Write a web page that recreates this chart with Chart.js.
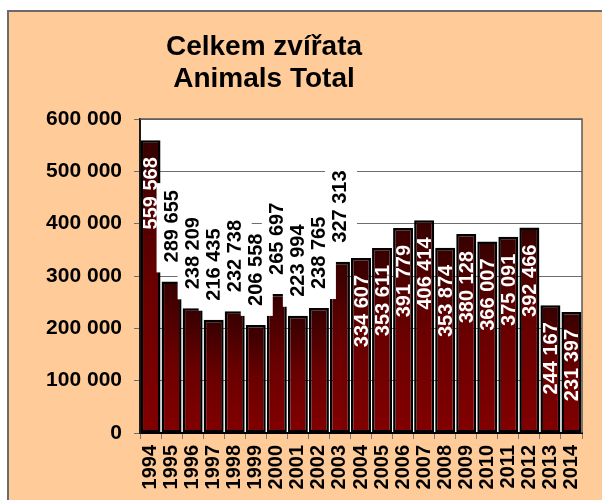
<!DOCTYPE html>
<html>
<head>
<meta charset="utf-8">
<title>Celkem zvířata</title>
<script src="https://cdn.jsdelivr.net/npm/chart.js@4.4.1/dist/chart.umd.min.js"></script>
<style>
  html, body { margin: 0; padding: 0; background: #fff; }
  #frame {
    position: absolute; left: 7px; top: 10px; right: 0; bottom: 0;
    background: #ffcc99;
    border-top: 2px solid #6b6b6b;
    border-left: 2px solid #6b6b6b;
  }
  #wrap { position: absolute; left: 0; top: 0; width: 602px; height: 500px; }
</style>
</head>
<body>
<div id="frame"></div>
<div id="wrap"><canvas id="animalsChart" width="602" height="500"></canvas></div>
<script>
// Animals total by year
const years = ['1994', '1995', '1996', '1997', '1998', '1999', '2000', '2001', '2002', '2003', '2004',
               '2005', '2006', '2007', '2008', '2009', '2010', '2011', '2012', '2013', '2014'];
const animals = [559568, 289655, 238209, 216435, 232738, 206558, 265697, 223994, 238765, 327313, 334607,
                 353611, 391779, 406414, 353874, 380128, 366007, 375091, 392466, 244167, 231397];
const yTicks = [0, 100000, 200000, 300000, 400000, 500000, 600000];
const titleLines = ['Celkem zvířata', 'Animals Total'];

const FONT = "'Liberation Sans', Arial, sans-serif";

function spaced(n) {
    return String(Math.round(n)).replace(/\B(?=(\d{3})+(?!\d))/g, ' ');
}

// labels for the low bars of 1995-2003 sit above the bar on a white box
function labelAbove(i) {
    return i >= 1 && i <= 9;
}

// dark-to-red gradient, one per bar
function barGradient(context) {
    const chart = context.chart;
    if (!chart.chartArea) return '#6a0000';
    const y = chart.scales.y;
    const top = y.getPixelForValue(context.raw);
    const base = y.getPixelForValue(0);
    const g = chart.ctx.createLinearGradient(0, top, 0, base);
    g.addColorStop(0, '#360000');
    g.addColorStop(0.5, '#6a0000');
    g.addColorStop(1, '#820000');
    return g;
}

// two-line title, a bit left of the plot centre
const titleBlock = {
    id: 'titleBlock',
    afterDraw(chart) {
        const ctx = chart.ctx;
        ctx.save();
        ctx.font = 'bold 28px ' + FONT;
        ctx.fillStyle = '#000000';
        ctx.textAlign = 'center';
        ctx.textBaseline = 'alphabetic';
        titleLines.forEach((line, i) => ctx.fillText(line, 264, 55 + i * 32));
        ctx.restore();
    }
};

// white plot area with grey frame
const plotArea = {
    id: 'plotArea',
    beforeDraw(chart) {
        const { ctx, chartArea: a } = chart;
        ctx.save();
        ctx.fillStyle = '#ffffff';
        ctx.fillRect(a.left, a.top, a.right - a.left, a.bottom - a.top);
        ctx.restore();
    },
    afterDraw(chart) {
        const { ctx, chartArea: a } = chart;
        ctx.save();
        ctx.strokeStyle = '#5a5a5a';
        ctx.lineWidth = 1.5;
        ctx.beginPath();
        ctx.moveTo(a.left, a.top);
        ctx.lineTo(a.right, a.top);
        ctx.lineTo(a.right, a.bottom);
        ctx.stroke();
        ctx.restore();
    }
};

// vertical value labels
const valueLabels = {
    id: 'valueLabels',
    afterDatasetsDraw(chart) {
        const ctx = chart.ctx;
        const meta = chart.getDatasetMeta(0);
        ctx.save();
        ctx.font = 'bold 20px ' + FONT;
        ctx.textBaseline = 'middle';
        meta.data.forEach((bar, i) => {
            const text = spaced(animals[i]);
            const w = ctx.measureText(text).width;
            const cx = bar.x + 1;
            if (labelAbove(i)) {
                const start = bar.y - 19;
                ctx.fillStyle = '#ffffff';
                ctx.fillRect(cx - 16, start - w - 7, 32, w + 17);
                ctx.save();
                ctx.translate(cx, start);
                ctx.rotate(-Math.PI / 2);
                ctx.textAlign = 'left';
                ctx.fillStyle = '#000000';
                ctx.fillText(text, 0, 0);
                ctx.restore();
            } else {
                ctx.save();
                ctx.translate(cx, bar.y + 17);
                ctx.rotate(-Math.PI / 2);
                ctx.textAlign = 'right';
                ctx.fillStyle = '#ffffff';
                ctx.fillText(text, 0, 0);
                ctx.restore();
            }
        });
        ctx.restore();
    }
};

const ctx = document.getElementById('animalsChart').getContext('2d');
const animalsChart = new Chart(ctx, {
    type: 'bar',
    data: {
        labels: years,
        datasets: [{
            label: 'Animals Total',
            data: animals,
            backgroundColor: barGradient,
            borderColor: '#000000',
            borderWidth: 2.5,
            borderSkipped: false,
            barPercentage: 0.95,
            categoryPercentage: 1.0
        }]
    },
    options: {
        responsive: false,
        animation: false,
        layout: { padding: { left: 0, right: 20, top: 119, bottom: 0 } },
        plugins: {
            legend: { display: false },
            tooltip: { enabled: false },
            title: { display: false }
        },
        scales: {
            x: {
                grid: {
                    display: true,
                    drawOnChartArea: false,
                    offset: true,
                    color: '#7a7a7a',
                    tickLength: 6
                },
                border: { color: '#000000', width: 2 },
                ticks: {
                    color: '#000000',
                    font: { family: FONT, size: 20, weight: 'bold' },
                    maxRotation: 90,
                    minRotation: 90,
                    padding: 6,
                    autoSkip: false
                },
                afterFit(scale) { scale.height = 67; }
            },
            y: {
                min: 0,
                max: 600000,
                afterBuildTicks(scale) { scale.ticks = yTicks.map(v => ({ value: v })); },
                grid: { color: '#6e6e6e', lineWidth: 1, tickLength: 6 },
                border: { color: '#1a1a1a', width: 2 },
                ticks: {
                    color: '#000000',
                    font: { family: FONT, size: 21, weight: 'bold' },
                    padding: 12,
                    callback: v => spaced(v)
                },
                afterFit(scale) { scale.width = 140; }
            }
        }
    },
    plugins: [plotArea, valueLabels, titleBlock]
});
</script>
</body>
</html>
